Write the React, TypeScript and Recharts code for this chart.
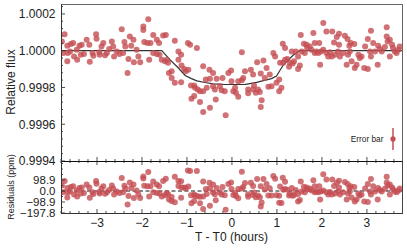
import React from "react";
import {
  ComposedChart, Scatter, Line, XAxis, YAxis, ReferenceLine, ErrorBar, LabelList,
} from "recharts";

// time from mid-transit (hours)
const times = [
  -3.78, -3.75, -3.72, -3.66, -3.65, -3.66, -3.60, -3.58, -3.53, -3.51,
  -3.45, -3.44, -3.39, -3.36, -3.34, -3.29, -3.23, -3.17, -3.16, -3.10,
  -3.08, -3.02, -3.01, -2.95, -2.94, -2.90, -2.86, -2.82, -2.78, -2.73,
  -2.67, -2.64, -2.62, -2.56, -2.50, -2.45, -2.42, -2.39, -2.37, -2.32,
  -2.30, -2.27, -2.24, -2.19, -2.18, -2.12, -2.08, -2.04, -1.97, -1.97,
  -1.95, -1.88, -1.86, -1.84, -1.81, -1.75, -1.75, -1.67, -1.67, -1.62,
  -1.61, -1.56, -1.53, -1.49, -1.47, -1.45, -1.42, -1.40, -1.34, -1.34,
  -1.27, -1.27, -1.19, -1.19, -1.13, -1.13, -1.12, -1.06, -1.03, -0.98,
  -0.97, -0.93, -0.91, -0.90, -0.84, -0.84, -0.82, -0.78, -0.76, -0.71,
  -0.71, -0.64, -0.64, -0.64, -0.58, -0.56, -0.50, -0.49, -0.49, -0.42,
  -0.42, -0.38, -0.36, -0.34, -0.27, -0.23, -0.21, -0.16, -0.14, -0.08,
  -0.02, -0.01, 0.03, 0.07, 0.09, 0.14, 0.14, 0.22, 0.22, 0.25,
  0.29, 0.36, 0.36, 0.42, 0.47, 0.47, 0.49, 0.53, 0.56, 0.58,
  0.62, 0.64, 0.64, 0.66, 0.70, 0.73, 0.77, 0.81, 0.84, 0.88,
  0.92, 0.96, 0.99, 1.05, 1.05, 1.07, 1.10, 1.13, 1.14, 1.18,
  1.18, 1.23, 1.27, 1.29, 1.33, 1.35, 1.38, 1.42, 1.47, 1.47,
  1.51, 1.53, 1.55, 1.60, 1.62, 1.66, 1.67, 1.73, 1.77, 1.81,
  1.84, 1.84, 1.88, 1.92, 1.94, 1.96, 1.98, 2.03, 2.03, 2.10,
  2.10, 2.14, 2.18, 2.22, 2.23, 2.27, 2.29, 2.33, 2.36, 2.38,
  2.38, 2.40, 2.47, 2.51, 2.55, 2.57, 2.58, 2.61, 2.62, 2.64,
  2.66, 2.72, 2.73, 2.77, 2.81, 2.84, 2.88, 2.94, 2.96, 3.02,
  3.02, 3.07, 3.09, 3.09, 3.14, 3.18, 3.24, 3.25, 3.29, 3.33,
  3.40, 3.44, 3.44, 3.46, 3.51, 3.51, 3.56, 3.58, 3.62, 3.66,
  3.70, 3.73,
];

// relative flux minus 1, in ppm
const fluxPpm = [
  50, -12, 90, 27, -12, -58, -4, 36, 42, -31,
  5, -49, 27, -22, 32, -18, 59, 32, -60, -12,
  -27, 90, 65, -9, -22, 23, 42, -25, -12, 9,
  50, 23, -31, -4, -18, 117, -12, 47, 23, -121,
  -45, 77, 27, 59, -63, 5, -31, -63, 131, 113,
  47, 42, 171, -49, 42, 86, -12, 59, -18, 42,
  -22, -49, 83, -58, 86, -49, -66, -121, -112, -148,
  54, -175, -4, -49, -22, -171, -81, -99, -112, 42,
  -103, 32, -189, -261, -189, -247, -202, 15, -211, -220,
  -279, -85, -220, -333, -157, -202, -103, -153, -310, -121,
  -193, -211, -265, -153, -193, -215, -148, -220, -351, -121,
  -108, -166, -220, -202, -229, -250, -166, -161, -9, -148,
  -112, -211, -232, -103, -130, -211, -189, -229, -63, -211,
  -225, -124, -306, -269, -54, -148, -94, -196, -130, -193,
  -12, -31, -175, -157, -220, -66, -202, 38, -66, 15,
  -49, -45, -88, -66, -4, -70, -58, -4, -31, -99,
  -81, 86, -4, 38, -12, 32, 15, 23, 5, 96,
  42, -12, -4, -12, 42, -76, -4, 150, 5, 104,
  -12, -31, -9, -31, 104, 45, -22, 74, -4, 92,
  32, -31, -12, 81, -76, 63, -22, 27, -4, 42,
  -58, 36, -94, -76, -22, -40, -31, -94, 23, 63,
  -99, -4, 108, -31, 42, -4, -76, 27, 9, -4,
  20, 128, 77, 50, 59, -31, 32, 15, -4, -12,
  5, 23,
];

// residuals (ppm)
const residPpm = [
  50, -12, 90, 27, -12, -58, -4, 36, 42, -31,
  5, -49, 27, -22, 32, -18, 59, 32, -60, -12,
  -27, 90, 65, -9, -22, 23, 42, -25, -12, 9,
  50, 23, -31, -4, -18, 117, -12, 47, 23, -121,
  -45, 77, 27, 59, -63, 5, -31, -63, 131, 113,
  47, 42, 171, -49, 42, 86, -12, 59, -18, 42,
  -22, -49, 91, -39, 110, -19, -28, -77, -54, -90,
  129, -100, 90, 45, 88, -61, 32, 31, 24, 184,
  41, 180, -38, -109, -31, -89, -42, 179, -46, -52,
  -111, 86, -49, -162, 17, -27, 74, 24, -133, 59,
  -13, -30, -84, 28, -11, -32, 35, -37, -168, 63,
  76, 18, -36, -18, -45, -66, 18, 22, 174, 35,
  71, -30, -51, 75, 45, -36, -14, -56, 108, -41,
  -57, 43, -139, -104, 109, 13, 64, -40, 24, -41,
  135, 111, -37, -43, -106, 40, -108, 120, 12, 83,
  19, 12, -41, -24, 28, -43, -36, 10, -26, -94,
  -81, 86, -4, 38, -12, 32, 15, 23, 5, 96,
  42, -12, -4, -12, 42, -76, -4, 150, 5, 104,
  -12, -31, -9, -31, 104, 45, -22, 74, -4, 92,
  32, -31, -12, 81, -76, 63, -22, 27, -4, 42,
  -58, 36, -94, -76, -22, -40, -31, -94, 23, 63,
  -99, -4, 108, -31, 42, -4, -76, 27, 9, -4,
  20, 128, 77, 50, 59, -31, 32, 15, -4, -12,
  5, 23,
];

// transit model
const modelTimes = [-3.8, -1.56, -1.38, -1.19, -1.04, -0.9, -0.78, -0.6, -0.42, -0.2, 0, 0.3, 0.55, 0.7, 0.88, 0.99, 1.14, 1.36, 1.5, 3.78];
const modelPpm = [0, 0, -49, -94, -135, -152, -164, -173, -180, -183, -184, -183, -172, -163, -152, -138, -78, -25, 0, 0];

const timeTicks = [
  -3.8, -3.6, -3.4, -3.2, -3, -2.8, -2.6, -2.4, -2.2, -2, -1.8, -1.6, -1.4, -1.2, -1,
  -0.8, -0.6, -0.4, -0.2, 0, 0.2, 0.4, 0.6, 0.8, 1, 1.2, 1.4, 1.6, 1.8, 2, 2.2, 2.4,
  2.6, 2.8, 3, 3.2, 3.4, 3.6,
];
const timeLabels = [-3, -2, -1, 0, 1, 2, 3];

const fluxTicks = [
  0.9994, 0.99944, 0.99948, 0.99952, 0.99956, 0.9996, 0.99964, 0.99968, 0.99972, 0.99976,
  0.9998, 0.99984, 0.99988, 0.99992, 0.99996, 1.0, 1.00004, 1.00008, 1.00012, 1.00016,
  1.0002, 1.00024,
];
const fluxLabels = [0.9994, 0.9996, 0.9998, 1.0, 1.0002];

const residTicks = [-197.8, -148.35, -98.9, -49.45, 0, 49.45, 98.9, 148.35, 197.8, 247.25];
const residLabels = [-197.8, -98.9, 0, 98.9];

const errorSample = [{ t: 3.58, f: 0.99952, err: 0.00006, name: "Error bar" }];

const lightCurve = times.map((t, i) => ({ t, f: 1 + fluxPpm[i] / 1e6 }));
const residuals = times.map((t, i) => ({ t, r: residPpm[i] }));
const model = modelTimes.map((t, i) => ({ t, f: 1 + modelPpm[i] / 1e6 }));

const RED = "#C44E52";
const INK = "#222";
const FONT = "'Liberation Sans', Arial, sans-serif";
const RESID_H = 52;

const has = (list: number[], v: number) => list.some((m) => Math.abs(m - v) < 1e-9);
const minus = (s: string) => s.replace("-", "\u2212");

const Dot = (p: any) => <circle cx={p.cx} cy={p.cy} r={3} fill={RED} fillOpacity={0.8} />;
const ErrDot = (p: any) => <circle cx={p.cx} cy={p.cy} r={2.6} fill={RED} />;

const TopTimeTick = (p: any) => {
  const major = has(timeLabels, p.payload.value);
  return <line x1={p.x} x2={p.x} y1={p.y} y2={p.y - (major ? 4 : 2)} stroke={INK} strokeWidth={0.8} />;
};

const BottomTimeTick = (p: any) => {
  const v = p.payload.value;
  const major = has(timeLabels, v);
  const len = major ? 4 : 2;
  return (
    <g>
      <line x1={p.x} x2={p.x} y1={p.y} y2={p.y - len} stroke={INK} strokeWidth={0.8} />
      <line x1={p.x} x2={p.x} y1={p.y - RESID_H} y2={p.y - RESID_H + len} stroke={INK} strokeWidth={0.8} />
      {major && (
        <text x={p.x} y={p.y + 14} textAnchor="middle" fontSize={12} fill={INK} fontFamily={FONT}>
          {minus(String(v))}
        </text>
      )}
    </g>
  );
};

const makeYTick = (labels: number[], fmt: (v: number) => string, size: number) => (p: any) => {
  const v = p.payload.value;
  const major = has(labels, v);
  return (
    <g>
      <line x1={p.x} x2={p.x + (major ? 4 : 2)} y1={p.y} y2={p.y} stroke={INK} strokeWidth={0.8} />
      {major && (
        <text x={p.x - 5.5} y={p.y + size * 0.36} textAnchor="end" fontSize={size} fill={INK} fontFamily={FONT}>
          {fmt(v)}
        </text>
      )}
    </g>
  );
};

const FluxTick = makeYTick(fluxLabels, (v) => v.toFixed(4), 12);
const ResidTick = makeYTick(residLabels, (v) => minus(v.toFixed(1)), 11.5);

export default function App() {
  return (
    <div style={{ position: "absolute", left: 0, top: 0, width: 407, height: 249, background: "#fff", fontFamily: FONT }}>
      <div style={{ position: "absolute", left: 0, top: 0 }}>
        <ComposedChart width={407} height={172} margin={{ top: 4, right: 5, bottom: 0, left: 0 }}>
          <XAxis
            type="number" dataKey="t" domain={[-3.8, 3.78]} allowDataOverflow
            ticks={timeTicks} interval={0} height={11} tickSize={0} tickMargin={0}
            axisLine={false} tickLine={false} tick={TopTimeTick}
          />
          <YAxis
            type="number" domain={[0.9994, 1.000254]} allowDataOverflow
            ticks={fluxTicks} interval={0} width={61} tickSize={0} tickMargin={0}
            axisLine={false} tickLine={false} tick={FluxTick}
          />
          <Scatter data={lightCurve} dataKey="f" shape={Dot} isAnimationActive={false} />
          <Line data={model} dataKey="f" type="linear" stroke="#333" strokeWidth={1.2} dot={false} isAnimationActive={false} />
          <Scatter data={errorSample} dataKey="f" shape={ErrDot} isAnimationActive={false}>
            <ErrorBar dataKey="err" direction="y" width={0} stroke={RED} strokeWidth={1.5} />
            <LabelList dataKey="name" position="left" offset={5} fontSize={8.3} fill={INK} fontFamily={FONT} />
          </Scatter>
        </ComposedChart>
      </div>
      <div style={{ position: "absolute", left: 0, top: 161 }}>
        <ComposedChart width={407} height={88} margin={{ top: 0, right: 5, bottom: 0, left: 0 }}>
          <XAxis
            type="number" dataKey="t" domain={[-3.8, 3.78]} allowDataOverflow
            ticks={timeTicks} interval={0} height={36} tickSize={0} tickMargin={0}
            axisLine={false} tickLine={false} tick={BottomTimeTick}
            label={{ value: "T - T0 (hours)", position: "insideBottom", offset: 8, fontSize: 12, fill: INK, fontFamily: FONT }}
          />
          <YAxis
            type="number" domain={[-197.8, 270]} allowDataOverflow
            ticks={residTicks} interval={0} width={61} tickSize={0} tickMargin={0}
            axisLine={false} tickLine={false} tick={ResidTick}
          />
          <Scatter data={residuals} dataKey="r" shape={Dot} isAnimationActive={false} />
          <ReferenceLine y={0} stroke="#111" strokeWidth={1} strokeDasharray="4 2.5" />
        </ComposedChart>
      </div>
      {/* panel frames */}
      <div style={{ position: "absolute", left: 61, top: 4, width: 340, height: 157, borderTop: "1px solid #666", borderRight: "1px solid #666", borderLeft: "1px solid #333", pointerEvents: "none" }} />
      <div style={{ position: "absolute", left: 61, top: 161, width: 340, height: 51, borderTop: "1.5px solid #111", borderRight: "1px solid #444", borderLeft: "1px solid #333", borderBottom: "1px solid #333", pointerEvents: "none" }} />
      <div style={{ position: "absolute", left: 11, top: 82, transform: "translate(-50%, -50%) rotate(-90deg)", fontSize: 12, color: INK, whiteSpace: "nowrap" }}>
        Relative flux
      </div>
      <div style={{ position: "absolute", left: 11, top: 187, transform: "translate(-50%, -50%) rotate(-90deg)", fontSize: 9, color: INK, whiteSpace: "nowrap" }}>
        Residuals (ppm)
      </div>
    </div>
  );
}
